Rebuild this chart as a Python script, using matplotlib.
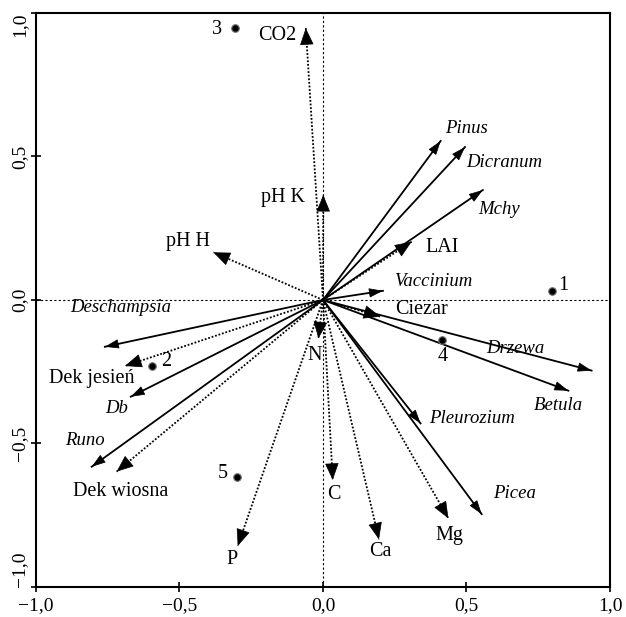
import matplotlib
matplotlib.use("Agg")
import matplotlib.pyplot as plt
import numpy as np

plt.rcParams['font.family'] = ['Liberation Serif', 'DejaVu Serif']

# Species (solid arrows)
sp_names = ["Pinus", "Dicranum", "Mchy", "Vaccinium", "Drzewa", "Betula",
            "Pleurozium", "Picea", "Deschampsia", "Db", "Runo"]
sp_x = [0.41, 0.495, 0.557, 0.209, 0.936, 0.855, 0.340, 0.553, -0.760, -0.670, -0.806]
sp_y = [0.554, 0.533, 0.383, 0.032, -0.246, -0.316, -0.430, -0.746, -0.163, -0.337, -0.581]
sp_lx = [0.50, 0.631, 0.613, 0.383, 0.669, 0.82, 0.518, 0.669, -0.704, -0.719, -0.829]
sp_ly = [0.598, 0.478, 0.314, 0.063, -0.168, -0.369, -0.412, -0.674, -0.027, -0.377, -0.490]

# Environmental variables (dotted arrows)
env_names = ["CO2", "pH K", "pH H", "LAI", "Ciezar", "N", "C", "Ca", "Mg", "P",
             "Dek jesień", "Dek wiosna"]
env_x = [-0.060, 0.001, -0.382, 0.309, 0.200, -0.016, 0.034, 0.195, 0.437, -0.297, -0.690, -0.719]
env_y = [0.947, 0.366, 0.166, 0.203, -0.058, -0.134, -0.627, -0.834, -0.761, -0.857, -0.230, -0.598]
env_lx = [-0.158, -0.138, -0.469, 0.415, 0.344, -0.030, 0.039, 0.199, 0.442, -0.316, -0.806, -0.704]
env_ly = [0.923, 0.358, 0.203, 0.182, -0.032, -0.192, -0.676, -0.877, -0.819, -0.903, -0.275, -0.666]

# Samples (points)
pt_names = ["1", "2", "3", "4", "5"]
pt_x = [0.799, -0.597, -0.307, 0.413, -0.301]
pt_y = [0.032, -0.230, 0.949, -0.139, -0.618]
pt_lx = [0.837, -0.545, -0.370, 0.417, -0.349]
pt_ly = [0.052, -0.215, 0.943, -0.197, -0.604]

ticks = [-1.0, -0.5, 0.0, 0.5, 1.0]
tick_labels = ["\u22121,0", "\u22120,5", "0,0", "0,5", "1,0"]

fig = plt.figure(figsize=(6.26, 6.17), dpi=100)
ax = fig.add_axes([0.0575, 0.0486, 0.9169, 0.9304])
ax.set_xlim(-1, 1)
ax.set_ylim(-1, 1)

ax.axhline(0, color='k', lw=0.8, ls=(0, (2, 2)), zorder=1)
ax.axvline(0, color='k', lw=0.8, ls=(0, (2, 2)), zorder=1)


def arrow(x, y, dotted):
    if dotted:
        ax.plot([0, x], [0, y], color='k', lw=1.3, ls=(0, (1, 1)), zorder=2)
        hl, hw = 1.1, 0.45
    else:
        ax.plot([0, x], [0, y], color='k', lw=1.3, zorder=3)
        hl, hw = 0.9, 0.3
    d = np.array([x, y]) / np.hypot(x, y)
    start = np.array([x, y]) - d * 0.03
    ax.annotate('', xy=(x, y), xytext=(start[0], start[1]),
                arrowprops=dict(arrowstyle=f'-|>,head_length={hl},head_width={hw}',
                                mutation_scale=10, lw=0.5, color='k',
                                shrinkA=0, shrinkB=0), zorder=4)


for x, y in zip(sp_x, sp_y):
    arrow(x, y, False)
for x, y in zip(env_x, env_y):
    arrow(x, y, True)

for n, lx, ly in zip(sp_names, sp_lx, sp_ly):
    ax.text(lx, ly, n, fontsize=13.5, style='italic', ha='center', va='center', zorder=5)
for n, lx, ly in zip(env_names, env_lx, env_ly):
    ax.text(lx, ly, n, fontsize=14.5, ha='center', va='center', zorder=5)

ax.scatter(pt_x, pt_y, s=30, color='black', edgecolor='#777777', lw=0.8, zorder=6)
for n, lx, ly in zip(pt_names, pt_lx, pt_ly):
    ax.text(lx, ly, n, fontsize=14.5, ha='center', va='center', zorder=5)

ax.set_xticks(ticks)
ax.set_xticklabels(tick_labels)
ax.set_yticks(ticks)
ax.set_yticklabels(tick_labels, rotation=90, va='center')
ax.tick_params(direction='inout', length=7, width=1.2, labelsize=14)
ax.tick_params(axis='x', pad=4)
ax.tick_params(axis='y', pad=2)
ylabs = ax.get_yticklabels()
ylabs[0].set_va('bottom')
ylabs[-1].set_va('top')
for s in ax.spines.values():
    s.set_linewidth(1.5)

fig.savefig("out.png", dpi=100)
